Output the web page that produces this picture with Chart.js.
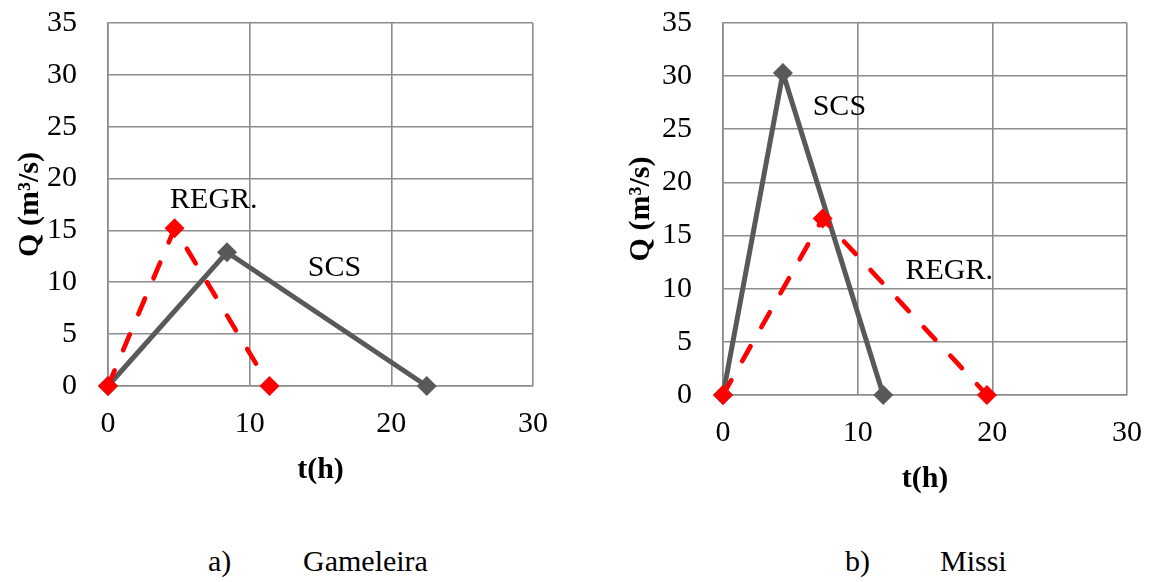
<!DOCTYPE html>
<html>
<head>
<meta charset="utf-8">
<script src="https://cdn.jsdelivr.net/npm/chart.js@4.4.1/dist/chart.umd.min.js"></script>
<style>
  html, body { margin: 0; padding: 0; background: #fff; }
  body { width: 1155px; height: 582px; position: relative; overflow: hidden; }
  .panel { position: absolute; top: 0; height: 520px; }
  #left { left: 0; width: 577px; }
  #right { left: 577px; width: 578px; }
  .cap { position: absolute; top: 546px; font-family: "Liberation Serif", "Times New Roman", serif;
         font-size: 30px; line-height: 30px; color: #000; white-space: nowrap; }
</style>
</head>
<body>
<div class="panel" id="left"><canvas id="chartA"></canvas></div>
<div class="panel" id="right"><canvas id="chartB"></canvas></div>
<div class="cap" style="left:208px">a)</div>
<div class="cap" style="left:303px">Gameleira</div>
<div class="cap" style="left:845px">b)</div>
<div class="cap" style="left:940px">Missi</div>
<script>
// Hydrographs: time (h) and discharge (m³/s)
const tTicks = [0, 10, 20, 30];
const qTicks = [0, 5, 10, 15, 20, 25, 30, 35];

const gameleiraRegrT = [0, 4.7, 11.4];
const gameleiraRegrQ = [0, 15.2, 0];
const gameleiraScsT  = [0, 8.4, 22.5];
const gameleiraScsQ  = [0, 12.9, 0];

const missiRegrT = [0, 7.4, 19.6];
const missiRegrQ = [0, 16.6, 0];
const missiScsT  = [0, 4.45, 11.9];
const missiScsQ  = [0, 30.3, 0];

const SERIF = '"Liberation Serif", "Times New Roman", serif';
const GRID = '#8c8c8c';
const RED = '#ff0000';
const GREY = '#595959';

const toPoints = (ts, qs) => ts.map((t, i) => ({ x: t, y: qs[i] }));

// Draws the curve names next to the lines, placed in data units
const curveLabels = {
  id: 'curveLabels',
  afterDatasetsDraw(chart, args, opts) {
    const { ctx, scales: { x, y } } = chart;
    ctx.save();
    ctx.font = opts.font;
    ctx.fillStyle = '#000';
    ctx.textAlign = 'left';
    ctx.textBaseline = 'alphabetic';
    (opts.items || []).forEach(it => {
      ctx.fillText(it.text, x.getPixelForValue(it.t), y.getPixelForValue(it.q));
    });
    ctx.restore();
  }
};

function makeChart(id, cfg) {
  const datasets = [
    {
      label: 'REGR.',
      data: toPoints(cfg.regrT, cfg.regrQ),
      borderColor: RED, backgroundColor: RED,
      borderWidth: 4.7, borderDash: [17, 22], borderCapStyle: 'round',
      pointStyle: 'rectRot', pointRadius: 10, pointBorderWidth: 0,
      pointBackgroundColor: RED, clip: false, tension: 0
    },
    {
      label: 'SCS',
      data: toPoints(cfg.scsT, cfg.scsQ),
      borderColor: GREY, backgroundColor: GREY,
      borderWidth: 5,
      pointStyle: 'rectRot', pointRadius: 10, pointBorderWidth: 0,
      pointBackgroundColor: GREY, clip: false, tension: 0
    }
  ];
  return new Chart(document.getElementById(id), {
    type: 'line',
    data: { datasets },
    plugins: [curveLabels],
    options: {
      responsive: true,
      maintainAspectRatio: false,
      animation: false,
      events: [],
      layout: { padding: { left: 0, top: 23, right: cfg.padRight, bottom: 0 } },
      plugins: {
        legend: { display: false },
        tooltip: { enabled: false },
        curveLabels: { font: '30px ' + SERIF, items: cfg.labels }
      },
      scales: {
        x: {
          type: 'linear', min: 0, max: 30,
          afterBuildTicks: s => { s.ticks = tTicks.map(v => ({ value: v })); },
          afterFit: s => { s.height = cfg.xHeight; s.paddingLeft = 0; s.paddingRight = 0; },
          grid: { color: GRID, lineWidth: 1.6, drawTicks: false },
          border: { color: GRID, width: 1.6 },
          ticks: { color: '#000', font: { family: SERIF, size: 30 }, padding: 20, maxRotation: 0 },
          title: {
            display: true, text: 't(h)', color: '#000',
            font: { family: SERIF, size: 30, weight: 'bold' },
            padding: { top: 0, bottom: cfg.xTitlePad }
          }
        },
        y: {
          type: 'linear', min: 0, max: 35,
          afterBuildTicks: s => { s.ticks = qTicks.map(v => ({ value: v })); },
          afterFit: s => { s.width = cfg.yWidth; s.paddingTop = 0; s.paddingBottom = 0; },
          grid: { color: GRID, lineWidth: 1.6, drawTicks: false },
          border: { color: GRID, width: 1.6 },
          ticks: { color: '#000', font: { family: SERIF, size: 30 }, padding: 31 },
          title: {
            display: true, text: 'Q (m³/s)', color: '#000',
            font: { family: SERIF, size: 30, weight: 'bold' },
            padding: { top: cfg.yTitlePad, bottom: 0 }
          }
        }
      }
    }
  });
}

makeChart('chartA', {
  regrT: gameleiraRegrT, regrQ: gameleiraRegrQ,
  scsT: gameleiraScsT, scsQ: gameleiraScsQ,
  padRight: 44, xHeight: 134, yWidth: 108, xTitlePad: 32, yTitlePad: 12,
  labels: [
    { text: 'REGR.', t: 4.38, q: 17.2 },
    { text: 'SCS', t: 14.1, q: 10.6 }
  ]
});

makeChart('chartB', {
  regrT: missiRegrT, regrQ: missiRegrQ,
  scsT: missiScsT, scsQ: missiScsQ,
  padRight: 28, xHeight: 125, yWidth: 146, xTitlePad: 23, yTitlePad: 46,
  labels: [
    { text: 'SCS', t: 6.66, q: 26.3 },
    { text: 'REGR.', t: 13.55, q: 10.9 }
  ]
});
</script>
</body>
</html>
